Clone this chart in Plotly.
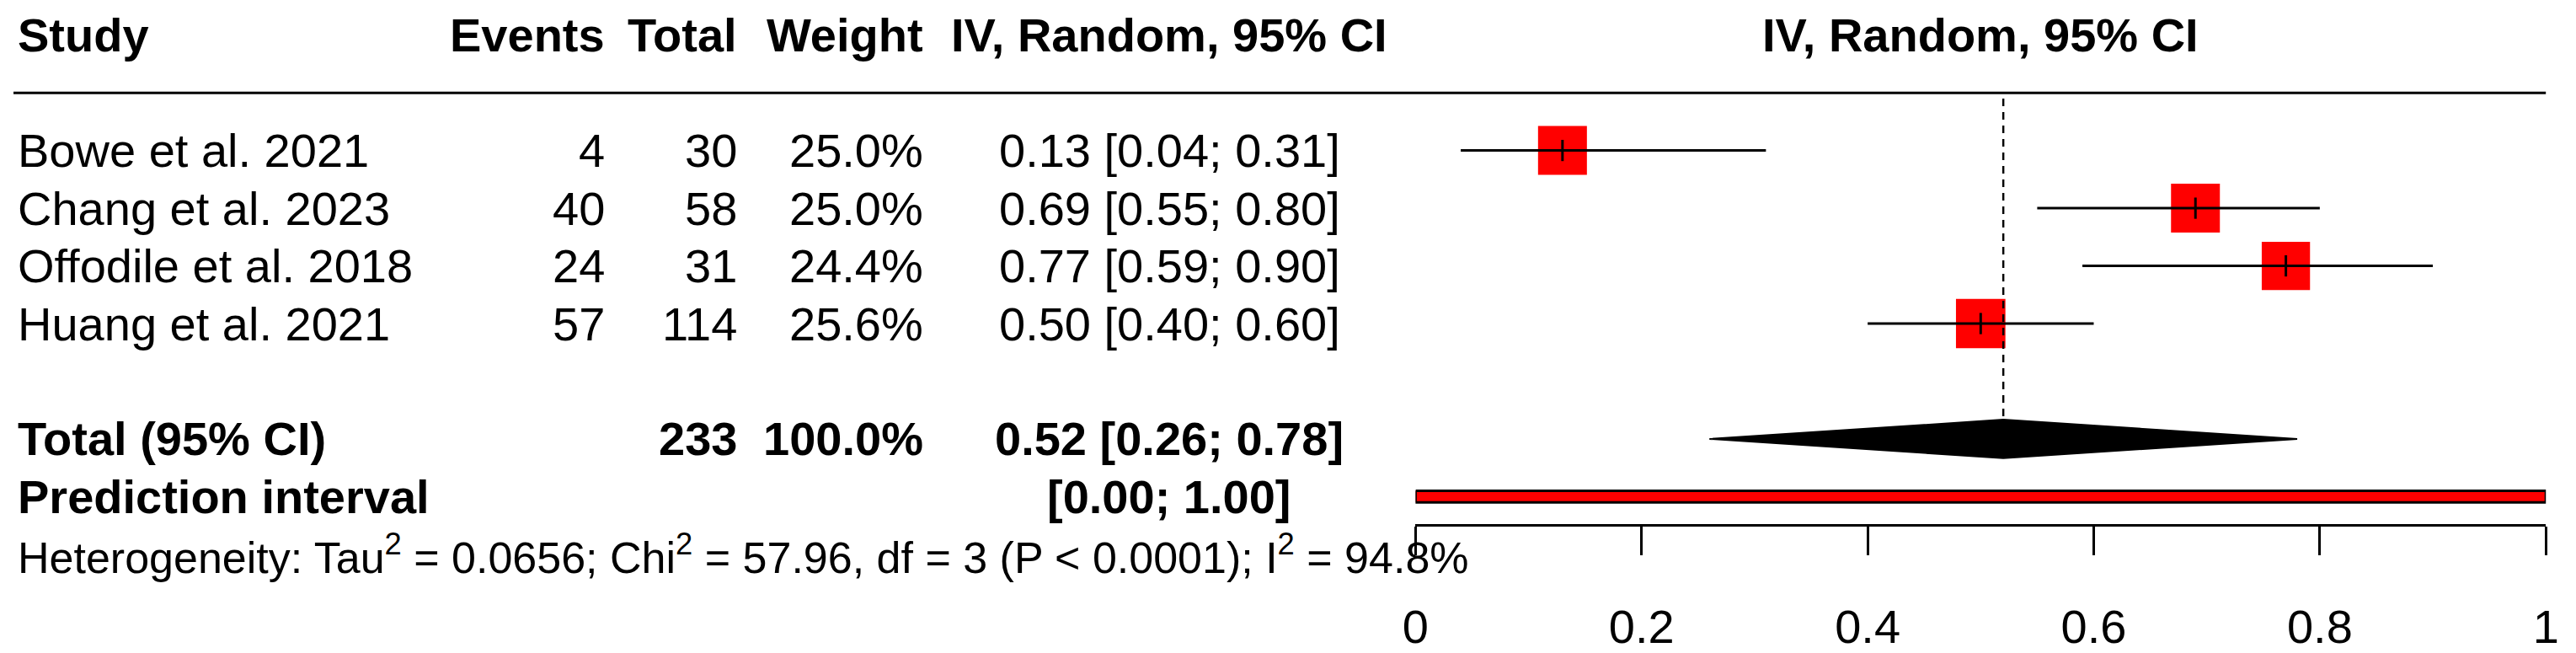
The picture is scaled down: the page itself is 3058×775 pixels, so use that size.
import plotly.graph_objects as go

# study level data
studies = ["Bowe et al. 2021", "Chang et al. 2023", "Offodile et al. 2018", "Huang et al. 2021"]
events = [4, 40, 24, 57]
totals = [30, 58, 31, 114]
weights = [25.0, 25.0, 24.4, 25.6]
est = [0.13, 0.69, 0.77, 0.50]
lower = [0.04, 0.55, 0.59, 0.40]
upper = [0.31, 0.80, 0.90, 0.60]

# pooled estimate and prediction interval
total_n = 233
total_weight = 100.0
pooled = [0.52, 0.26, 0.78]
pred_int = [0.00, 1.00]
het_text = ("Heterogeneity: Tau<sup>2</sup> = 0.0656; Chi<sup>2</sup> = 57.96, "
            "df = 3 (P < 0.0001); I<sup>2</sup> = 94.8%")

tick_vals = [0, 0.2, 0.4, 0.6, 0.8, 1]
tick_text = ["0", "0.2", "0.4", "0.6", "0.8", "1"]

W, H = 3058, 775
FONT = "Liberation Sans"
FS = 56
FS_HET = 52
ROW0, ROWH = 180, 69          # pixel centre of first study row, row height
TOTAL_ROW = len(studies) + 1  # one blank row before the summary
PI_ROW = TOTAL_ROW + 1
HET_ROW = PI_ROW + 1
AXIS_PX = 628


def px(x):
    return x / W


fig = go.Figure()

# boxes, proportional to sqrt(weight)
box_sizes = [58 * (w / 25.0) ** 0.5 for w in weights]
rows = list(range(len(studies)))
fig.add_trace(go.Scatter(
    x=est, y=rows, mode="markers",
    marker=dict(symbol="square", size=box_sizes, color="#ff0000",
                opacity=1, line_width=0),
    hoverinfo="skip"))

# confidence intervals
ci_x, ci_y = [], []
for i in rows:
    ci_x += [lower[i], upper[i], None]
    ci_y += [i, i, None]
fig.add_trace(go.Scatter(x=ci_x, y=ci_y, mode="lines",
                         line=dict(color="black", width=3), hoverinfo="skip"))
fig.add_trace(go.Scatter(
    x=est, y=rows, mode="markers",
    marker=dict(symbol="line-ns", size=18, opacity=1,
                line=dict(color="black", width=3)),
    hoverinfo="skip"))

# dashed line at pooled estimate
dh = 23 / ROWH
fig.add_trace(go.Scatter(
    x=[pooled[0], pooled[0]], y=[-0.9, TOTAL_ROW - dh], mode="lines",
    line=dict(color="black", width=2.5, dash="9px,7px"), hoverinfo="skip"))

# summary diamond
fig.add_trace(go.Scatter(
    x=[pooled[1], pooled[0], pooled[2], pooled[0], pooled[1]],
    y=[TOTAL_ROW, TOTAL_ROW - dh, TOTAL_ROW, TOTAL_ROW + dh, TOTAL_ROW],
    mode="lines", fill="toself", fillcolor="black",
    line=dict(color="black", width=2), hoverinfo="skip"))

# prediction interval bar
ph = 7 / ROWH
fig.add_trace(go.Scatter(
    x=[pred_int[0], pred_int[1], pred_int[1], pred_int[0], pred_int[0]],
    y=[PI_ROW - ph, PI_ROW - ph, PI_ROW + ph, PI_ROW + ph, PI_ROW - ph],
    mode="lines", fill="toself", fillcolor="#ff0000",
    line=dict(color="black", width=3), hoverinfo="skip"))

# table text
ann = []


def txt(s, x, row, anchor, bold=False, size=FS):
    ann.append(dict(text=f"<b>{s}</b>" if bold else s, x=px(x), y=row,
                    xref="paper", yref="y", xanchor=anchor, yanchor="middle",
                    showarrow=False, font=dict(family=FONT, size=size, color="black")))


COL_STUDY, COL_EV, COL_TOT, COL_W, COL_CI = 3, 711, 870, 1093, 1387
hdr = -2
txt("Study", COL_STUDY, hdr, "left", True)
txt("Events", COL_EV, hdr, "right", True)
txt("Total", COL_TOT, hdr, "right", True)
txt("Weight", COL_W, hdr, "right", True)
txt("IV, Random, 95% CI", COL_CI, hdr, "center", True)
txt("IV, Random, 95% CI", (1682 + 3038) / 2, hdr, "center", True)

for i in rows:
    txt(studies[i], COL_STUDY, i, "left")
    txt(str(events[i]), COL_EV, i, "right")
    txt(str(totals[i]), COL_TOT, i, "right")
    txt(f"{weights[i]:.1f}%", COL_W, i, "right")
    txt(f"{est[i]:.2f} [{lower[i]:.2f}; {upper[i]:.2f}]", COL_CI, i, "center")

txt("Total (95% CI)", COL_STUDY, TOTAL_ROW, "left", True)
txt(str(total_n), COL_TOT, TOTAL_ROW, "right", True)
txt(f"{total_weight:.1f}%", COL_W, TOTAL_ROW, "right", True)
txt(f"{pooled[0]:.2f} [{pooled[1]:.2f}; {pooled[2]:.2f}]", COL_CI, TOTAL_ROW, "center", True)
txt("Prediction interval", COL_STUDY, PI_ROW, "left", True)
txt(f"[{pred_int[0]:.2f}; {pred_int[1]:.2f}]", COL_CI, PI_ROW, "center", True)
txt(het_text, COL_STUDY, HET_ROW, "left", size=FS_HET)

fig.add_shape(type="line", xref="paper", yref="y", x0=0, x1=px(3038),
              y0=-1, y1=-1, line=dict(color="black", width=3))

ytop = -ROW0 / ROWH
ybot = (H - ROW0) / ROWH
fig.update_layout(
    width=W, height=H, margin=dict(l=0, r=0, t=0, b=0),
    plot_bgcolor="white", paper_bgcolor="white", showlegend=False,
    annotations=ann,
    xaxis=dict(domain=[px(1682), px(3038)], range=[0, 1], anchor="free",
               position=(H - AXIS_PX) / H, showgrid=False, zeroline=False,
               showline=True, linecolor="black", linewidth=3,
               ticks="outside", ticklen=34, tickwidth=3, tickcolor="black",
               tickvals=tick_vals, ticktext=tick_text, ticklabelstandoff=37,
               tickfont=dict(family=FONT, size=FS, color="black")),
    yaxis=dict(domain=[0, 1], range=[ybot, ytop], visible=False),
)

# drop the browser's default body margin so the figure sits at the page corner
fig.write_html("out.html", config={"displayModeBar": False},
               post_script="document.body.style.margin='0';"
                           "document.body.style.overflow='hidden';")
